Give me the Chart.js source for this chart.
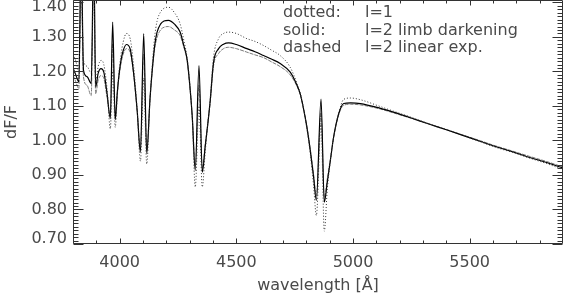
<!DOCTYPE html>
<html>
<head>
<meta charset="utf-8">
<script src="https://cdn.jsdelivr.net/npm/chart.js@4"></script>
<style>
  html, body { margin: 0; padding: 0; background: #fff; }
  canvas { display: block; }
</style>
</head>
<body>
<canvas id="c" width="563" height="296"></canvas>
<script>
// ---- data ----
const wavelengths = [
  3800, 3812, 3825, 3835, 3845, 3860, 3878, 3889, 3897, 3908, 3920, 3932, 3946, 3960, 3970, 3981,
  3990, 3996, 4005, 4015, 4029, 4045, 4060, 4075, 4089, 4103, 4116, 4130, 4139, 4150, 4160, 4175,
  4190, 4209, 4235, 4259, 4275, 4289, 4300, 4311, 4324, 4340, 4354, 4367, 4378, 4388, 4402, 4424,
  4445, 4467, 4500, 4545, 4580, 4617, 4650, 4688, 4731, 4760, 4775, 4790, 4802, 4817, 4831, 4843,
  4863, 4877, 4890, 4903, 4917, 4939, 4960, 4990, 5032, 5118, 5173, 5250, 5319, 5400, 5461, 5547,
  5603, 5680, 5761, 5830, 5900
];
const dottedL1 = [
  1.250, 1.230, 1.200, 1.450, 1.232, 1.215, 1.195, 1.450, 1.170, 1.215, 1.232, 1.220, 1.150, 1.034, 1.200, 1.038,
  1.130, 1.190, 1.245, 1.285, 1.310, 1.295, 1.215, 1.090, 0.940, 1.180, 0.932, 1.120, 1.212, 1.300, 1.345, 1.372,
  1.383, 1.386, 1.370, 1.338, 1.290, 1.240, 1.170, 1.067, 0.865, 1.100, 0.865, 0.970, 1.050, 1.120, 1.240, 1.295,
  1.310, 1.314, 1.310, 1.295, 1.287, 1.275, 1.262, 1.246, 1.212, 1.165, 1.135, 1.085, 1.035, 0.962, 0.870, 0.783,
  1.050, 0.737, 0.860, 0.942, 1.010, 1.080, 1.119, 1.123, 1.118, 1.098, 1.085, 1.067, 1.050, 1.031, 1.017, 0.996,
  0.982, 0.966, 0.948, 0.933, 0.916
];
const solidL2Limb = [
  1.210, 1.190, 1.170, 1.550, 1.203, 1.185, 1.165, 1.550, 1.155, 1.195, 1.208, 1.198, 1.136, 1.063, 1.343, 1.060,
  1.140, 1.183, 1.230, 1.260, 1.278, 1.265, 1.194, 1.087, 0.966, 1.310, 0.962, 1.120, 1.200, 1.275, 1.313, 1.337,
  1.346, 1.348, 1.337, 1.314, 1.275, 1.235, 1.165, 1.070, 0.913, 1.217, 0.908, 0.985, 1.050, 1.115, 1.225, 1.266,
  1.279, 1.283, 1.278, 1.266, 1.257, 1.246, 1.236, 1.223, 1.198, 1.160, 1.132, 1.085, 1.040, 0.970, 0.894, 0.826,
  1.120, 0.821, 0.880, 0.942, 1.010, 1.078, 1.107, 1.109, 1.107, 1.093, 1.082, 1.065, 1.049, 1.031, 1.017, 0.997,
  0.984, 0.968, 0.950, 0.936, 0.920
];
const dashedL2Lin = [
  1.190, 1.170, 1.150, 1.500, 1.184, 1.160, 1.130, 1.500, 1.135, 1.175, 1.188, 1.180, 1.125, 1.070, 1.280, 1.067,
  1.140, 1.178, 1.220, 1.250, 1.266, 1.255, 1.190, 1.085, 0.975, 1.250, 0.972, 1.120, 1.195, 1.265, 1.298, 1.320,
  1.328, 1.330, 1.320, 1.304, 1.270, 1.230, 1.160, 1.070, 0.925, 1.160, 0.920, 0.990, 1.050, 1.110, 1.215, 1.252,
  1.266, 1.270, 1.266, 1.256, 1.248, 1.240, 1.228, 1.214, 1.190, 1.157, 1.130, 1.085, 1.042, 0.975, 0.903, 0.840,
  1.080, 0.835, 0.890, 0.945, 1.010, 1.075, 1.102, 1.105, 1.103, 1.091, 1.080, 1.064, 1.049, 1.032, 1.018, 0.999,
  0.986, 0.970, 0.953, 0.939, 0.923
];
const xTickValues = [4000, 4500, 5000, 5500];
const yTickValues = [0.70, 0.80, 0.90, 1.00, 1.10, 1.20, 1.30, 1.40];
const legendKeys = ['dotted:', 'solid:', 'dashed'];
const legendTexts = ['l=1', 'l=2 limb darkening', 'l=2 linear exp.'];
const xTitle = 'wavelength [\u00C5]';
const yTitle = 'dF/F';

// ---- helpers ----
const toPoints = ys => wavelengths.map((w, i) => ({ x: w, y: ys[i] }));
const FONT = '"DejaVu Sans", "Liberation Sans", sans-serif';
const TEXT = '#4a4a4a';

const framePlugin = {
  id: 'frame',
  afterDatasetsDraw(chart) {
    const { ctx, chartArea: a, scales: { x, y } } = chart;
    ctx.save();
    ctx.strokeStyle = '#333';
    ctx.lineWidth = 1;
    const L = Math.round(a.left) + 0.5, R = Math.round(a.right) - 0.5;
    const T = Math.round(a.top) + 0.5, B = Math.round(a.bottom) - 0.5;
    ctx.beginPath();
    ctx.moveTo(L, T); ctx.lineTo(R, T); ctx.lineTo(R, B); ctx.lineTo(L, B); ctx.closePath();
    // x ticks every 100, major every 500
    for (let v = x.min; v <= x.max + 1e-6; v += 100) {
      const px = Math.round(x.getPixelForValue(v)) + 0.5;
      const len = (Math.round(v) % 500 === 0) ? 5 : 3;
      ctx.moveTo(px, B); ctx.lineTo(px, B - len);
      ctx.moveTo(px, T); ctx.lineTo(px, T + len);
    }
    // y ticks every 0.01, major every 0.1
    for (let k = 70; k <= 140; k++) {
      const v = k / 100;
      if (v > y.max) break;
      const py = Math.round(y.getPixelForValue(v)) + 0.5;
      const len = (k % 10 === 0) ? 10 : 5;
      ctx.moveTo(L, py); ctx.lineTo(L + len, py);
      ctx.moveTo(R, py); ctx.lineTo(R - len, py);
    }
    ctx.stroke();
    ctx.restore();
  }
};

const notesPlugin = {
  id: 'notes',
  afterDraw(chart) {
    const ctx = chart.ctx;
    ctx.save();
    ctx.font = '16px ' + FONT;
    ctx.fillStyle = TEXT;
    ctx.textBaseline = 'middle';
    ctx.textAlign = 'left';
    legendKeys.forEach((k, i) => {
      const yy = 13 + i * 17.5;
      ctx.fillText(k, 283, yy);
      ctx.fillText(legendTexts[i], 365, yy);
    });
    ctx.restore();
  }
};

new Chart(document.getElementById('c'), {
  type: 'line',
  data: {
    datasets: [
      { label: legendTexts[0], data: toPoints(dottedL1), borderColor: '#333', borderWidth: 1, borderDash: [1, 2] },
      { label: legendTexts[1], data: toPoints(solidL2Limb), borderColor: '#000', borderWidth: 1.2 },
      { label: legendTexts[2], data: toPoints(dashedL2Lin), borderColor: '#7a7a7a', borderWidth: 1, borderDash: [4, 1] }
    ]
  },
  options: {
    responsive: false,
    animation: false,
    devicePixelRatio: 1,
    layout: { padding: { left: 0, right: 0, top: 0, bottom: 0 } },
    elements: { point: { radius: 0 }, line: { cubicInterpolationMode: 'monotone' } },
    plugins: { legend: { display: false }, tooltip: { enabled: false } },
    scales: {
      x: {
        type: 'linear', position: 'bottom', min: 3800, max: 5900,
        grid: { display: false, drawTicks: false }, border: { display: false },
        afterBuildTicks: s => { s.ticks = xTickValues.map(v => ({ value: v })); },
        afterFit: s => { s.height = 52; s.paddingLeft = 0; s.paddingRight = 0; },
        ticks: { padding: 9, color: TEXT, font: { family: FONT, size: 16 }, maxRotation: 0, callback: v => String(v) },
        title: { display: true, text: xTitle, color: TEXT, font: { family: FONT, size: 16 }, padding: { top: 0, bottom: 1 } }
      },
      y: {
        type: 'linear', min: 0.70, max: 1.407,
        grid: { display: false, drawTicks: false }, border: { display: false },
        afterBuildTicks: s => {
          const n = yTickValues.length;
          // edge labels sit slightly inside the frame, as in the original
          s.ticks = yTickValues.map((v, i) => ({ value: i === 0 ? v + 0.014 : (i === n - 1 ? v - 0.014 : v) }));
        },
        afterFit: s => { s.width = 73; s.paddingTop = 0; s.paddingBottom = 0; },
        ticks: { padding: 6, color: TEXT, font: { family: FONT, size: 16 }, callback: (v, i) => yTickValues[i].toFixed(2) },
        title: { display: true, text: yTitle, color: TEXT, font: { family: FONT, size: 16 }, padding: { top: 2, bottom: 0 } }
      }
    }
  },
  plugins: [framePlugin, notesPlugin]
});
</script>
</body>
</html>
